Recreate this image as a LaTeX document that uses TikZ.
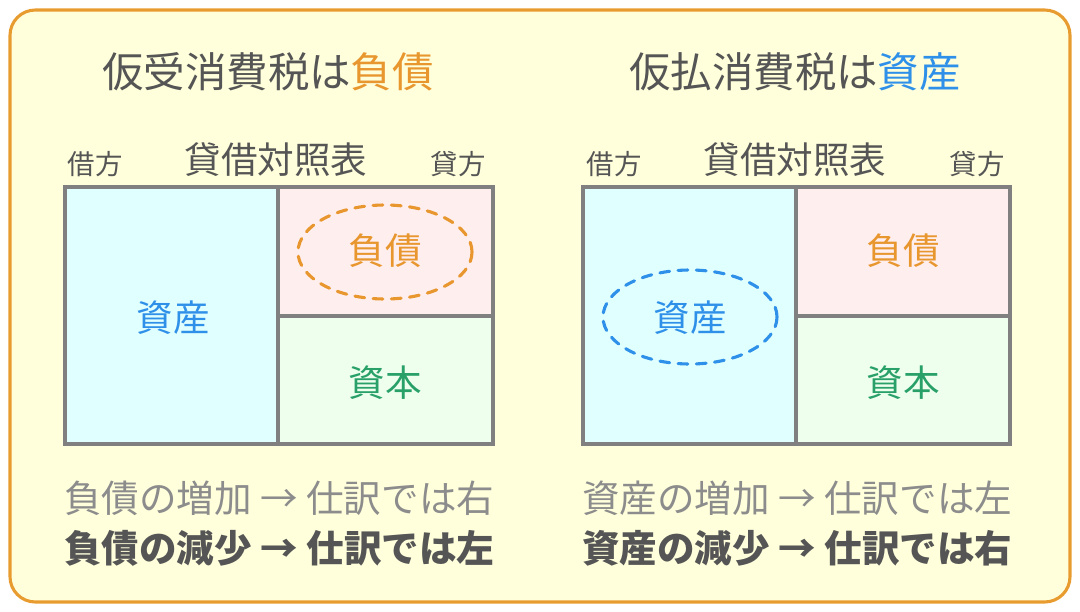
\documentclass[tikz,border=0pt]{standalone}
\usepackage{fontspec}
\setmainfont{Noto Sans CJK JP}
\definecolor{frameorange}{HTML}{E89C30}
\definecolor{paper}{HTML}{FFFFDC}
\definecolor{inkgray}{HTML}{555555}
\definecolor{softgray}{HTML}{8C8C8C}
\definecolor{linegray}{HTML}{808080}
\definecolor{assetblue}{HTML}{2E90E8}
\definecolor{debtorange}{HTML}{E8962E}
\definecolor{capgreen}{HTML}{28A068}
\definecolor{cellcyan}{HTML}{E0FFFF}
\definecolor{cellpink}{HTML}{FFEEEE}
\definecolor{cellgreen}{HTML}{EEFFEE}
\begin{document}
\begin{tikzpicture}[x=0.025cm,y=-0.025cm,
        headline/.style={text=inkgray,font=\fontsize{29.5}{34}\selectfont,inner sep=0pt},
        sheettitle/.style={text=inkgray,font=\fontsize{26}{30}\selectfont,inner sep=0pt},
        side/.style={text=inkgray,font=\fontsize{19.5}{22}\selectfont,inner sep=0pt},
        cellbox/.style={draw=linegray,line width=2.2pt},
        cellname/.style={font=\fontsize{26}{30}\selectfont,inner sep=0pt},
        ring/.style={dashed,line width=2.2pt,dash pattern=on 7pt off 6pt,line cap=round},
        rule/.style={anchor=west,font=\fontsize{26.7}{30}\selectfont,inner sep=0pt}
      ]
      \useasboundingbox (0,0) rectangle (1080,612);
      \draw[frameorange,fill=paper,line width=2.2pt,rounded corners=18pt] (10,10) rectangle (1070,602);

      % left: 仮受消費税
      \node[headline] (lhead) at (268,72) {仮受消費税は\textcolor{debtorange}{負債}};
      \node[side] (ldebit) at (95,164) {借方};
      \node[sheettitle] (ltitle) at (276,160) {貸借対照表};
      \node[side] (lcredit) at (458,164) {貸方};
      \fill[cellcyan] (65,187) rectangle (278,444);
      \fill[cellpink] (278,187) rectangle (493,316);
      \fill[cellgreen] (278,316) rectangle (493,444);
      \draw[cellbox] (65,187) rectangle (493,444);
      \draw[cellbox] (278,187) -- (278,444) (278,316) -- (493,316);
      \node[cellname,text=assetblue] (lasset) at (173,318) {資産};
      \node[cellname,text=debtorange] (ldebt) at (385,251) {負債};
      \node[cellname,text=capgreen] (lcap) at (385,383) {資本};
      \draw[ring,debtorange] (385,252) ellipse [x radius=87, y radius=47];
      \node[rule,text=softgray] (lup) at (64,498) {負債の増加 → 仕訳では右};
      \node[rule,text=inkgray,font=\fontsize{26.7}{30}\selectfont\bfseries] (ldown) at (64,548) {負債の減少 → 仕訳では左};

      % right: 仮払消費税
      \node[headline] (rhead) at (795,72) {仮払消費税は\textcolor{assetblue}{資産}};
      \node[side] (rdebit) at (614,164) {借方};
      \node[sheettitle] (rtitle) at (795,160) {貸借対照表};
      \node[side] (rcredit) at (977,164) {貸方};
      \fill[cellcyan] (583,187) rectangle (796,444);
      \fill[cellpink] (796,187) rectangle (1010,316);
      \fill[cellgreen] (796,316) rectangle (1010,444);
      \draw[cellbox] (583,187) rectangle (1010,444);
      \draw[cellbox] (796,187) -- (796,444) (796,316) -- (1010,316);
      \node[cellname,text=assetblue] (rasset) at (690,318) {資産};
      \node[cellname,text=debtorange] (rdebt) at (903,251) {負債};
      \node[cellname,text=capgreen] (rcap) at (903,383) {資本};
      \draw[ring,assetblue] (690,317) ellipse [x radius=87, y radius=47];
      \node[rule,text=softgray] (rup) at (582,498) {資産の増加 → 仕訳では左};
      \node[rule,text=inkgray,font=\fontsize{26.7}{30}\selectfont\bfseries] (rdown) at (582,548) {資産の減少 → 仕訳では右};
\end{tikzpicture}
\end{document}
